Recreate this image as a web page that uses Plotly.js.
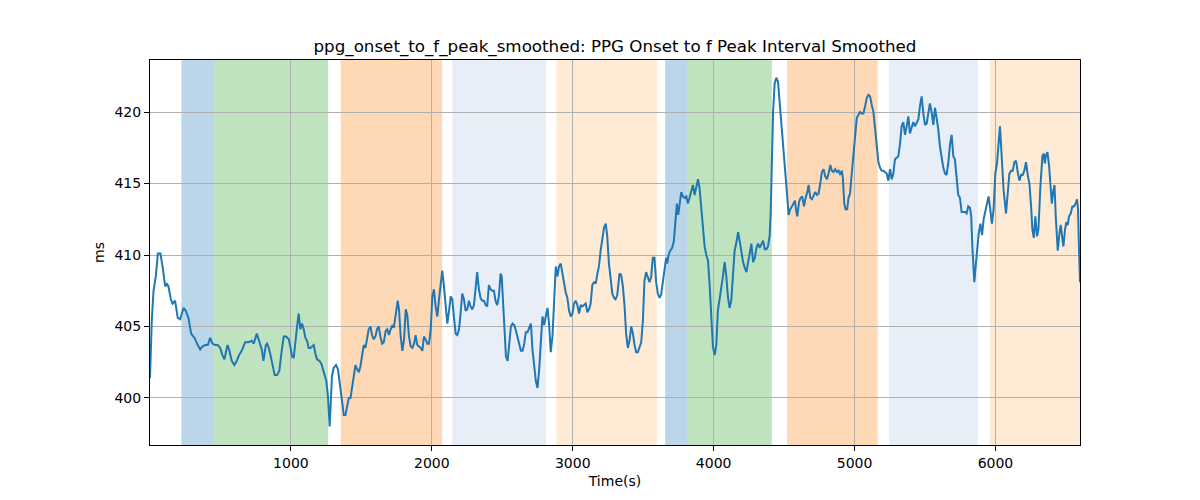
<!DOCTYPE html>
<html>
<head>
<meta charset="utf-8">
<script src="https://cdn.plot.ly/plotly-3.0.1.min.js"></script>
<style>
  html, body { margin: 0; padding: 0; background: #fff; }
  #chart { width: 1200px; height: 500px; }
</style>
</head>
<body>
<div id="chart"></div>
<script>
// time axis (s) and smoothed interval (ms)
const timeS = [
  0, 6, 13, 25, 41, 56, 74, 89, 108, 119, 131, 148, 160, 178, 197, 214, 238, 254, 273, 292,
  316, 339, 356, 372, 391, 410, 427, 443, 462, 481, 498, 514, 528, 550, 561, 580, 599, 616, 632, 651,
  675, 699, 722, 736, 758, 774, 793, 805, 822, 831, 843, 855, 867, 885, 902, 918, 932, 949, 966, 985,
  996, 1008, 1020, 1032, 1044, 1055, 1067, 1079, 1091, 1103, 1115, 1126, 1138, 1150, 1162, 1174, 1185, 1202, 1216, 1225,
  1239, 1251, 1263, 1275, 1284, 1291, 1303, 1320, 1334, 1349, 1364, 1375, 1387, 1399, 1411, 1423, 1434, 1446, 1458, 1470,
  1482, 1493, 1505, 1517, 1529, 1541, 1552, 1564, 1576, 1588, 1600, 1611, 1623, 1635, 1647, 1659, 1673, 1684, 1696, 1708,
  1720, 1730, 1744, 1758, 1767, 1779, 1791, 1803, 1815, 1826, 1838, 1850, 1862, 1874, 1885, 1897, 1909, 1921, 1933, 1944,
  1956, 1968, 1980, 1992, 2004, 2015, 2027, 2039, 2051, 2063, 2074, 2086, 2098, 2110, 2122, 2134, 2145, 2157, 2169, 2181,
  2193, 2204, 2216, 2228, 2240, 2252, 2263, 2275, 2287, 2299, 2311, 2322, 2334, 2346, 2358, 2370, 2382, 2393, 2405, 2417,
  2429, 2441, 2452, 2464, 2476, 2488, 2496, 2502, 2514, 2526, 2538, 2549, 2561, 2573, 2585, 2597, 2608, 2620, 2632, 2644,
  2656, 2667, 2679, 2691, 2703, 2715, 2726, 2738, 2750, 2762, 2773, 2785, 2797, 2809, 2821, 2832, 2844, 2856, 2868, 2880,
  2891, 2903, 2915, 2927, 2939, 2950, 2962, 2974, 2986, 2998, 3009, 3021, 3033, 3045, 3057, 3068, 3080, 3092, 3104, 3116,
  3127, 3139, 3151, 3163, 3175, 3186, 3198, 3210, 3222, 3234, 3245, 3257, 3269, 3281, 3293, 3304, 3316, 3332, 3344, 3356,
  3368, 3379, 3391, 3403, 3415, 3427, 3439, 3450, 3462, 3474, 3486, 3498, 3509, 3521, 3533, 3545, 3557, 3568, 3580, 3592,
  3604, 3616, 3627, 3639, 3651, 3663, 3670, 3680, 3692, 3706, 3718, 3730, 3739, 3749, 3758, 3770, 3782, 3794, 3806, 3817,
  3829, 3841, 3853, 3865, 3877, 3889, 3900, 3912, 3924, 3936, 3948, 3960, 3971, 3983, 3995, 4007, 4019, 4030, 4042, 4054,
  4066, 4078, 4090, 4101, 4113, 4125, 4137, 4149, 4160, 4174, 4186, 4197, 4209, 4221, 4233, 4245, 4256, 4268, 4280, 4292,
  4304, 4315, 4327, 4339, 4351, 4363, 4374, 4386, 4398, 4405, 4412, 4422, 4433, 4445, 4457, 4469, 4480, 4492, 4504, 4516,
  4523, 4532, 4544, 4556, 4568, 4577, 4587, 4594, 4606, 4617, 4629, 4641, 4653, 4665, 4674, 4686, 4698, 4709, 4721, 4733,
  4745, 4757, 4768, 4780, 4792, 4804, 4816, 4828, 4839, 4851, 4863, 4875, 4887, 4898, 4910, 4917, 4927, 4936, 4948, 4957,
  4968, 4980, 4992, 5004, 5016, 5027, 5039, 5051, 5063, 5075, 5087, 5098, 5110, 5122, 5134, 5146, 5157, 5169, 5181, 5193,
  5205, 5216, 5228, 5240, 5252, 5264, 5275, 5287, 5299, 5311, 5323, 5334, 5346, 5358, 5370, 5382, 5393, 5405, 5417, 5429,
  5441, 5453, 5464, 5476, 5488, 5500, 5512, 5523, 5535, 5547, 5559, 5571, 5582, 5594, 5606, 5618, 5630, 5642, 5653, 5665,
  5677, 5689, 5701, 5712, 5724, 5736, 5748, 5760, 5772, 5784, 5795, 5807, 5819, 5828, 5836, 5850, 5864, 5881, 5893, 5905,
  5916, 5932, 5951, 5963, 5975, 5987, 5999, 6011, 6022, 6032, 6046, 6058, 6075, 6087, 6099, 6111, 6123, 6134, 6146, 6158,
  6170, 6182, 6193, 6205, 6217, 6229, 6241, 6253, 6262, 6272, 6283, 6295, 6305, 6319, 6333, 6343, 6350, 6359, 6369, 6381,
  6390, 6400, 6409, 6419, 6428, 6442, 6454, 6463, 6473, 6482, 6494, 6503, 6513, 6522, 6534, 6546, 6558, 6569, 6579, 6586,
  6593, 6600
];
const intervalMs = [
  401.4, 404.0, 405.5, 407.5, 408.5, 410.1, 410.1, 409.2, 407.8, 408.0, 407.8, 406.9, 406.6, 406.8, 405.6, 405.5, 406.3, 406.1, 405.6, 404.5,
  404.2, 403.7, 403.4, 403.6, 403.7, 403.7, 404.2, 403.8, 403.7, 403.7, 403.5, 403.0, 402.7, 403.7, 403.4, 402.6, 402.3, 402.6, 403.0, 403.3,
  403.9, 403.9, 404.0, 403.8, 404.5, 404.0, 403.4, 402.6, 403.7, 403.8, 403.5, 403.0, 402.4, 401.6, 401.6, 401.9, 403.1, 404.3, 404.3, 404.1,
  403.6, 402.9, 402.8, 404.1, 405.0, 405.9, 404.8, 405.2, 404.8, 404.2, 404.0, 403.5, 403.5, 403.6, 403.7, 403.1, 402.7, 402.6, 402.4, 402.1,
  401.5, 401.2, 400.1, 398.0, 399.9, 401.5, 402.1, 402.3, 402.0, 401.0, 399.7, 398.8, 398.8, 399.4, 400.0, 400.0, 400.8, 401.3, 402.3, 402.0,
  401.8, 402.2, 403.0, 403.7, 403.5, 404.1, 404.8, 405.0, 404.4, 404.1, 404.3, 404.8, 405.0, 404.3, 403.8, 403.9, 404.7, 404.8, 404.4, 404.8,
  405.1, 404.9, 405.7, 406.8, 406.2, 404.3, 403.3, 404.1, 406.2, 405.8, 404.3, 403.6, 403.5, 403.8, 404.4, 403.7, 403.6, 403.5, 403.3, 404.3,
  404.1, 403.8, 403.8, 404.8, 407.1, 407.6, 406.4, 405.7, 406.9, 408.0, 408.9, 407.8, 406.2, 405.2, 406.1, 407.1, 406.9, 405.7, 404.5, 404.4,
  404.8, 405.9, 407.3, 406.9, 406.1, 406.2, 406.8, 406.4, 406.2, 406.5, 408.0, 408.8, 407.6, 407.0, 406.8, 406.8, 406.5, 406.4, 407.9, 407.6,
  407.5, 407.5, 406.8, 406.5, 407.1, 408.7, 408.5, 407.3, 405.0, 402.9, 402.6, 404.0, 405.0, 405.2, 405.1, 404.7, 404.3, 403.7, 403.3, 403.3,
  403.8, 404.6, 404.6, 404.9, 405.2, 403.3, 402.2, 401.2, 400.7, 402.0, 403.8, 405.7, 405.1, 405.8, 406.3, 405.2, 403.2, 404.3, 407.1, 409.2,
  408.5, 409.2, 409.4, 408.6, 408.0, 407.4, 407.0, 406.1, 405.7, 405.9, 406.6, 406.8, 406.5, 405.9, 406.5, 406.4, 406.5, 406.6, 406.0, 406.2,
  406.6, 407.9, 408.1, 408.0, 408.7, 409.2, 410.3, 411.0, 411.9, 412.2, 411.3, 409.4, 408.5, 407.3, 407.0, 406.9, 407.2, 408.7, 408.6, 407.8,
  406.4, 404.5, 403.5, 404.0, 405.0, 404.5, 403.7, 403.2, 403.2, 403.5, 403.9, 405.4, 408.2, 408.8, 408.4, 408.1, 408.5, 409.8, 409.8, 408.1,
  407.3, 407.0, 407.2, 408.0, 408.9, 409.8, 409.4, 410.0, 410.3, 410.5, 411.0, 412.6, 413.6, 412.8, 413.6, 414.4, 414.1, 414.0, 414.1, 413.6,
  414.0, 414.5, 414.9, 414.2, 414.9, 415.3, 414.7, 413.1, 412.2, 410.6, 410.0, 409.6, 408.0, 405.4, 403.6, 403.0, 403.7, 406.1, 406.8, 407.7,
  408.5, 409.5, 408.5, 407.1, 406.3, 406.8, 408.8, 410.3, 410.8, 411.6, 410.9, 410.1, 409.5, 409.1, 408.8, 409.5, 410.2, 410.8, 409.5, 409.8,
  410.5, 410.8, 410.5, 410.8, 411.0, 410.4, 410.4, 410.6, 411.4, 413.0, 415.8, 420.0, 422.0, 422.4, 422.1, 420.7, 419.2, 418.1, 416.8, 415.4,
  414.0, 412.8, 413.2, 413.4, 413.7, 413.8, 413.0, 412.7, 413.7, 414.0, 414.1, 413.4, 414.0, 414.4, 414.9, 414.0, 413.9, 414.1, 414.4, 414.2,
  414.3, 415.0, 415.8, 416.0, 415.5, 415.3, 415.7, 416.3, 415.9, 415.8, 416.0, 415.8, 415.9, 415.6, 415.9, 415.4, 413.6, 413.2, 413.2, 414.0,
  414.3, 415.7, 417.1, 418.5, 419.6, 419.8, 420.0, 419.9, 419.9, 420.4, 421.0, 421.2, 421.1, 420.5, 420.0, 418.8, 417.6, 416.5, 416.1, 415.9,
  415.9, 415.8, 415.7, 415.2, 416.0, 415.3, 415.7, 416.7, 416.8, 416.9, 417.8, 419.0, 419.3, 418.4, 419.0, 419.7, 418.5, 418.9, 419.3, 419.0,
  419.2, 419.5, 420.4, 421.1, 419.9, 419.1, 419.2, 419.9, 420.6, 420.0, 419.1, 420.3, 419.7, 418.8, 417.6, 416.7, 416.1, 415.7, 415.6, 416.4,
  417.7, 418.4, 416.9, 416.7, 415.3, 414.2, 414.0, 413.0, 413.0, 413.0, 412.9, 413.4, 413.3, 412.7, 410.6, 408.1, 409.7, 411.5, 412.2, 411.4,
  412.5, 413.3, 414.1, 413.2, 412.2, 413.2, 415.7, 416.4, 417.5, 419.0, 416.6, 414.5, 412.9, 414.1, 415.7, 415.9, 415.9, 416.5, 416.6, 415.8,
  415.2, 415.6, 415.6, 415.9, 416.5, 415.6, 415.0, 413.4, 411.8, 411.2, 412.7, 411.3, 411.8, 414.8, 416.9, 417.1, 416.4, 417.0, 417.2, 416.2,
  414.8, 413.6, 414.4, 414.9, 412.7, 410.3, 411.5, 412.1, 411.3, 410.6, 411.8, 412.3, 412.1, 412.7, 412.9, 413.4, 413.4, 413.6, 413.9, 413.2,
  410.4, 408.1
];

// shaded phases
const spanStart = [223, 453, 1353, 2145, 2885, 3656, 3815, 4521, 5245, 5960];
const spanEnd   = [453, 1264, 2073, 2811, 3598, 3815, 4413, 5164, 5875, 6600];
const spanColor = ['#1f77b4', '#2ca02c', '#ff7f0e', '#aec7e8', '#ffbb78',
                   '#1f77b4', '#2ca02c', '#ff7f0e', '#aec7e8', '#ffbb78'];

const xTicks = [1000, 2000, 3000, 4000, 5000, 6000];
const yTicks = [400, 405, 410, 415, 420];

const shapes = spanStart.map((s, i) => ({
  type: 'rect',
  xref: 'x', yref: 'paper',
  x0: s, x1: spanEnd[i], y0: 0, y1: 1,
  fillcolor: spanColor[i],
  opacity: 0.3,
  line: { width: 0 },
  layer: 'below'
}));

const trace = {
  x: timeS,
  y: intervalMs,
  type: 'scatter',
  mode: 'lines',
  line: { color: '#1f77b4', width: 2 },
  hoverinfo: 'x+y'
};

const axisFont = { family: 'DejaVu Sans', size: 14, color: '#000' };

const layout = {
  width: 1200,
  height: 500,
  margin: { l: 150, r: 120, t: 60, b: 55 },
  paper_bgcolor: '#fff',
  plot_bgcolor: '#fff',
  showlegend: false,
  font: { family: 'DejaVu Sans', size: 14, color: '#000' },
  title: {
    text: 'ppg_onset_to_f_peak_smoothed: PPG Onset to f Peak Interval Smoothed',
    font: { family: 'DejaVu Sans', size: 16.7, color: '#000' },
    xref: 'paper', x: 0.5, xanchor: 'center',
    yref: 'container', y: 0.908, yanchor: 'middle'
  },
  xaxis: {
    range: [0, 6600],
    tickvals: xTicks,
    ticktext: xTicks.map(String),
    ticks: 'outside', ticklen: 5, tickwidth: 1, tickcolor: '#000',
    showline: true, mirror: true, linecolor: '#000', linewidth: 1,
    showgrid: true, gridcolor: '#b0b0b0', gridwidth: 1,
    zeroline: false,
    tickfont: axisFont,
    title: { text: 'Time(s)', font: axisFont, standoff: 6 }
  },
  yaxis: {
    range: [396.71, 423.64],
    tickvals: yTicks,
    ticktext: yTicks.map(String),
    ticks: 'outside', ticklen: 5, tickwidth: 1, tickcolor: '#000',
    showline: true, mirror: true, linecolor: '#000', linewidth: 1,
    showgrid: true, gridcolor: '#b0b0b0', gridwidth: 1,
    zeroline: false,
    tickfont: axisFont,
    title: { text: 'ms', font: axisFont, standoff: 6 }
  },
  shapes: shapes
};

Plotly.newPlot('chart', [trace], layout, { staticPlot: true, displayModeBar: false });
</script>
</body>
</html>
